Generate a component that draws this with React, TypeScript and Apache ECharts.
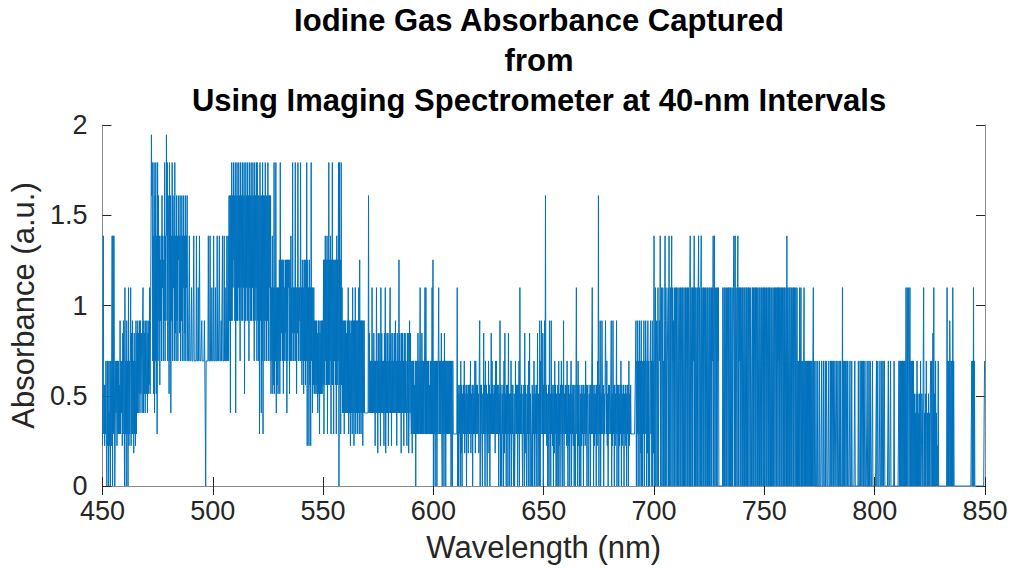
import React, { useEffect, useRef } from "react";
import * as echarts from "echarts";

// Quantised absorbance levels, ln(a/b) of small count ratios; each hex digit below indexes this table.
const levels = [
  0, 0.182, 0.223, 0.288, 0.405, 0.511, 0.56, 0.693,
  0.847, 0.916, 1.099, 1.253, 1.386, 1.609, 1.792, 1.946,
];

// Wavelength axis settings and tick values.
const xMin = 450;
const xMax = 850;
const xStep = 50;
const yTicks = [0, 0.5, 1, 1.5, 2];
const bandWidth = 10; // nm covered by each coded band

// Absorbance samples, one coded string per 10-nm band, from 450 nm upward.
const bands450to500 = [
  "27C36263720727042707" + "27C0C3C7037472737363" + "9374728397",
  "0A3709370A2737A28393" + "7183729384" + "9485949587" + "49A4958497",
  "5948596A59CFDE7C5E4D" + "7E5C3E7D9C6B9C7DAC7B" + "9E7C9FCE7D",
  "C5E7D4C9E7DAC7E8C7D9" + "C7DBC8D7C9D7CAD7C8D7" + "CAD7777C77",
  "77A7777C77777C777A77" + "C7777977777977077777" + "C777C777A7",
];
const bands500to550 = [
  "77C777A777C7777C7779" + "77C777C7A777C79C7D9D" + "4D9E9DAEBD",
  "9E4D9E9DAE9D7EAD9E9D" + "AE5D9EAD9E9D7EAD9E9D" + "AE9D7E9DAE",
  "7E9D7D3E9D4D7E3D9D7E" + "9D7D9E7DAD7D5A7C5A6E" + "5A7E4A6A5A",
  "7B5E7B8B7B5B7A8B7B4B" + "7BAB5B7C7A8E7A7A8E7A" + "5A8E7A9A7E",
  "7A6B7A5B7B6B7E2B7A2B" + "6A2E7A4A6A5959695849" + "5938595959",
];
const bands550to600 = [
  "6B3B6C7B6C3B6E6B7C3B" + "6E6B3B7B6B3C6B7E0E6B" + "3E6A494939",
  "4948494A394928493A49" + "294A3949394A3B493949" + "2949444444",
  "444D4847474A47484727" + "4A471848472A48474728" + "4A17484827",
  "48A48274847484947284" + "74B48471848472848474" + "2848149484",
  "37173736370737383737" + "A3738373737A3A373737" + "3637373A3B",
];
const bands600to650 = [
  "073707370737A3737383" + "07370837073737373737" + "0730733333",
  "3333A060536071605363" + "71536063516363715360" + "6353717363",
  "63517906363053836073" + "63053716053837363536" + "1737363605",
  "39063053607183506360" + "83505370636305037363" + "606370A353",
  "63053608163053607380" + "53036053706350638053" + "0907396380",
];
const bands650to700 = [
  "6393D362503609350936" + "25061736050360725063" + "7206390536",
  "36273062506370536260" + "3605A360726035062536" + "0635273605",
  "6205360637A360526350" + "6273D063905396360536" + "9637250636",
  "63690529360625390636" + "05263706253605362506" + "3607253633",
  "33333333790739073907" + "19070739073970719073" + "0793709071",
];
const bands700to750 = [
  "C07A07907A0797C09A07" + "A0709C0A7079A0C07A09" + "C0A790A07A",
  "0A70A90A70A07A0A70A0" + "7A0A70A0A70AC0A70A0A" + "7C0A0A70A0",
  "AC0A70AC0A70A0A70A07" + "A0A70A0A70A0A7C0AC0A" + "70A0A7A000",
  "000000A07A0A70A07A0A" + "70A0A70A07AC0AC0A70A" + "C0A7A0A07A",
  "0A07A0A70A0A07A0A70A" + "A07A0A0A70A0A70A07A0" + "A70A0A70A0",
];
const bands750to800 = [
  "A0A70A07A0A0A70A0A70" + "A07A0A70A0A7A0A0A70A" + "0A70A0A07A",
  "0C0A07A0A70A0A70A0A7" + "0A70A07070A07A070707" + "A070707070",
  "70707070707A07000700" + "07000700007000700070" + "0700007000",
  "70700707007700700700" + "0707000A070700700707" + "0000700070",
  "00000700000007000700" + "70070700700007000700" + "7000070000",
];
const bands800to850 = [
  "00007007000070007007" + "00700000000700007000" + "0000700000",
  "00000707070707070707" + "0A07A07A07A070707070" + "5040507050",
  "40507025407A04050720" + "40504057074080A05070" + "4020700000",
  "00000000000000A07070" + "9707070A070000000000" + "0000000000",
  "00000000000000000000" + "7070A070000000000000" + "0000000007",
];

const allBands = [
  ...bands450to500,
  ...bands500to550,
  ...bands550to600,
  ...bands600to650,
  ...bands650to700,
  ...bands700to750,
  ...bands750to800,
  ...bands800to850,
];

function buildSpectrum(): [number, number][] {
  const pts: [number, number][] = [];
  allBands.forEach((band, k) => {
    const start = xMin + k * bandWidth;
    const n = band.length;
    for (let i = 0; i < n; i++) {
      const wl = start + (bandWidth * i) / n;
      pts.push([wl, levels[parseInt(band[i], 16)]]);
    }
  });
  // closing sample at the upper end of the range
  const last = allBands[allBands.length - 1];
  pts.push([xMax, levels[parseInt(last[last.length - 1], 16)]]);
  return pts;
}

const titleLines = [
  "Iodine Gas Absorbance Captured",
  "from",
  "Using Imaging Spectrometer at 40-nm Intervals",
];

const FONT = "'Liberation Sans', Arial, Helvetica, sans-serif";
const frameColor = "#8a8a8a";
const tickColor = "#262626";

export default function App() {
  const ref = useRef<HTMLDivElement>(null);

  useEffect(() => {
    if (!ref.current) return;
    const chart = echarts.init(ref.current, null, { renderer: "svg" });
    const gridLeft = 93;
    const gridRight = 28;
    const plotCenter = gridLeft + (1013 - gridLeft - gridRight) / 2;

    const frameAxisCommon = {
      axisLine: { show: true, lineStyle: { color: frameColor, width: 1 } },
      axisTick: { show: true, inside: true, length: 9, lineStyle: { color: tickColor, width: 1 } },
      axisLabel: { show: false },
      splitLine: { show: false },
    };

    chart.setOption({
      animation: false,
      backgroundColor: "#ffffff",
      textStyle: { fontFamily: FONT },
      graphic: titleLines.map((t, i) => ({
        type: "text",
        x: plotCenter,
        y: 20 + i * 40,
        style: {
          text: t,
          fontFamily: FONT,
          fontWeight: "bold",
          fontSize: 31,
          fill: "#000000",
          textAlign: "center",
          textVerticalAlign: "middle",
        },
      })),
      grid: { left: gridLeft, right: gridRight, top: 125, bottom: 81, containLabel: false },
      xAxis: [
        {
          type: "value",
          min: xMin,
          max: xMax,
          interval: xStep,
          position: "bottom",
          name: "Wavelength (nm)",
          nameLocation: "middle",
          nameGap: 46,
          nameTextStyle: { fontFamily: FONT, fontSize: 31, color: tickColor },
          axisLine: { show: true, onZero: false, lineStyle: { color: frameColor, width: 1 } },
          axisTick: { show: true, inside: true, length: 9, lineStyle: { color: tickColor, width: 1 } },
          axisLabel: { fontFamily: FONT, fontSize: 27, color: tickColor, margin: 11 },
          splitLine: { show: false },
        },
        {
          type: "value",
          min: xMin,
          max: xMax,
          interval: xStep,
          position: "top",
          ...frameAxisCommon,
        },
      ],
      yAxis: [
        {
          type: "value",
          min: yTicks[0],
          max: yTicks[yTicks.length - 1],
          interval: 0.5,
          position: "left",
          name: "Absorbance (a.u.)",
          nameLocation: "middle",
          nameGap: 52,
          nameTextStyle: { fontFamily: FONT, fontSize: 31, color: tickColor },
          axisLine: { show: true, onZero: false, lineStyle: { color: frameColor, width: 1 } },
          axisTick: { show: true, inside: true, length: 9, lineStyle: { color: tickColor, width: 1 } },
          axisLabel: { fontFamily: FONT, fontSize: 27, color: tickColor, margin: 15 },
          splitLine: { show: false },
        },
        {
          type: "value",
          min: yTicks[0],
          max: yTicks[yTicks.length - 1],
          interval: 0.5,
          position: "right",
          ...frameAxisCommon,
        },
      ],
      series: [
        {
          type: "line",
          xAxisIndex: 0,
          yAxisIndex: 0,
          data: buildSpectrum(),
          showSymbol: false,
          symbol: "none",
          lineStyle: { color: "#0072BD", width: 1 },
          clip: true,
        },
      ],
    });
    return () => chart.dispose();
  }, []);

  return (
    <div
      ref={ref}
      style={{ position: "fixed", left: 0, top: 0, width: 1013, height: 568 }}
    />
  );
}
